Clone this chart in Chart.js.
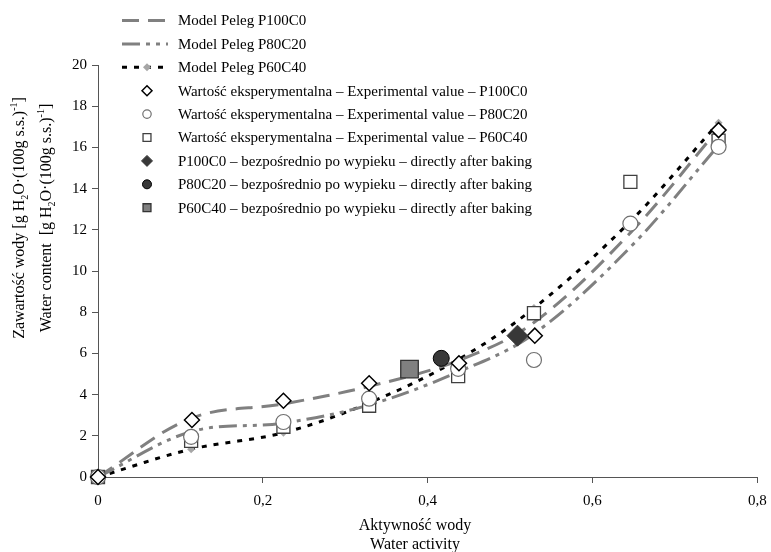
<!DOCTYPE html>
<html>
<head>
<meta charset="utf-8">
<script src="https://cdn.jsdelivr.net/npm/chart.js@4.4.0/dist/chart.umd.min.js"></script>
<style>
  html, body { margin: 0; padding: 0; background: #fff; }
  #wrap { width: 771px; height: 552px; position: relative; }
</style>
</head>
<body>
<div id="wrap"><canvas id="chart" width="771" height="552"></canvas></div>
<script>
const serif = '"Liberation Serif", "Times New Roman", serif'

// model (Peleg) values at the measured water activities
const modelAw = [0, 0.113, 0.225, 0.329, 0.437, 0.529, 0.647, 0.753]
const modelP100C0 = [0, 2.85, 3.55, 4.4, 5.65, 7.5, 11.9, 16.9]
const modelP80C20 = [0, 2.2, 2.62, 3.5, 5.1, 6.95, 11.2, 16.1]
const modelP60C40 = [0, 1.35, 2.15, 3.6, 5.7, 8.2, 12.45, 17.2]

// experimental values
const expAwP100C0 = [0, 0.114, 0.225, 0.329, 0.438, 0.530, 0.753]
const expP100C0 = [0, 2.77, 3.7, 4.55, 5.52, 6.86, 16.84]
const expAwP80C20 = [0, 0.113, 0.225, 0.329, 0.437, 0.529, 0.646, 0.753]
const expP80C20 = [0, 1.95, 2.67, 3.8, 5.25, 5.68, 12.3, 16.03]
const expAwP60C40 = [0, 0.113, 0.225, 0.329, 0.437, 0.529, 0.646, 0.753]
const expP60C40 = [0, 1.75, 2.44, 3.46, 4.9, 7.95, 14.33, 16.33]

// directly after baking
const bakedAw = [0.509, 0.4165, 0.378]
const bakedWater = [6.86, 5.76, 5.24]

const xTicks = [0, 0.2, 0.4, 0.6, 0.8]

const pts = (xs, ys) => xs.map((x, i) => ({x: x, y: ys[i]}))

const lineSet = (label, data, color, dash, extra) => Object.assign({
  label: label,
  data: data,
  showLine: true,
  borderColor: color,
  borderWidth: 3,
  borderDash: dash,
  tension: 0.35,
  pointRadius: 0,
  fill: false,
  order: 3,
  clip: false,
}, extra || {})

const markSet = (label, data, style, radius, fill, stroke, bw, order, legendRadius) => ({
  label: label,
  data: data,
  showLine: false,
  pointStyle: style,
  pointRadius: radius,
  pointBackgroundColor: fill,
  pointBorderColor: stroke,
  pointBorderWidth: bw,
  order: order,
  clip: false,
  legendRadius: legendRadius,
})

const datasets = [
  lineSet('Model Peleg P100C0', pts(modelAw, modelP100C0), '#808080', [17, 9]),
  lineSet('Model Peleg P80C20', pts(modelAw, modelP80C20), '#808080', [18, 6, 4, 6, 4, 6]),
  lineSet('Model Peleg P60C40', pts(modelAw, modelP60C40), '#000000', [5, 7], {
    pointRadius: 4, pointStyle: 'rectRot', pointBackgroundColor: '#a6a6a6',
    pointBorderColor: '#a6a6a6', pointBorderWidth: 0, legendRadius: 4,
  }),
  markSet('Wartość eksperymentalna – Experimental value – P100C0', pts(expAwP100C0, expP100C0),
    'rectRot', 7.5, '#ffffff', '#000000', 1.5, 2, 5),
  markSet('Wartość eksperymentalna – Experimental value – P80C20', pts(expAwP80C20, expP80C20),
    'circle', 7.5, '#ffffff', '#707070', 1.2, 2, 4.2),
  markSet('Wartość eksperymentalna – Experimental value – P60C40', pts(expAwP60C40, expP60C40),
    'rect', 9.2, '#ffffff', '#404040', 1.3, 2, 5.6),
  markSet('P100C0 – bezpośrednio po wypieku – directly after baking', [{x: bakedAw[0], y: bakedWater[0]}],
    'rectRot', 10.5, '#383838', '#383838', 1, 1, 5.5),
  markSet('P80C20 – bezpośrednio po wypieku – directly after baking', [{x: bakedAw[1], y: bakedWater[1]}],
    'circle', 8, '#383838', '#000000', 1, 1, 4.5),
  markSet('P60C40 – bezpośrednio po wypieku – directly after baking', [{x: bakedAw[2], y: bakedWater[2]}],
    'rect', 12.4, '#808080', '#333333', 1.3, 1, 5.6),
]

function drawRich(ctx, parts, x, y, size) {
  const fontFor = p => (p.sub || p.sup ? Math.round(size * 0.65) : size) + 'px ' + serif
  let total = 0
  parts.forEach(p => { ctx.font = fontFor(p); total += ctx.measureText(p.t).width })
  let cx = x - total / 2
  ctx.textAlign = 'left'
  parts.forEach(p => {
    ctx.font = fontFor(p)
    const dy = p.sub ? size * 0.22 : (p.sup ? -size * 0.42 : 0)
    ctx.fillText(p.t, cx, y + dy)
    cx += ctx.measureText(p.t).width
  })
}

const titlesPlugin = {
  id: 'titles',
  afterDraw(chart) {
    const ctx = chart.ctx
    ctx.save()
    ctx.fillStyle = '#000'
    ctx.textBaseline = 'alphabetic'
    ctx.textAlign = 'center'
    ctx.font = '16px ' + serif
    ctx.fillText('Aktywność wody', 415, 530)
    ctx.fillText('Water activity', 415, 549)

    const unit = [{t: 'O·(100g s.s.)'}, {t: '-1', sup: true}, {t: ']'}]
    ctx.save()
    ctx.translate(24, 218)
    ctx.rotate(-Math.PI / 2)
    drawRich(ctx, [{t: 'Zawartość wody [g H'}, {t: '2', sub: true}].concat(unit), 0, 0, 16)
    ctx.restore()
    ctx.save()
    ctx.translate(51, 218)
    ctx.rotate(-Math.PI / 2)
    drawRich(ctx, [{t: 'Water content  [g H'}, {t: '2', sub: true}].concat(unit), 0, 0, 16)
    ctx.restore()
    ctx.restore()
  }
}

const legendPlugin = {
  id: 'sideLegend',
  afterDraw(chart) {
    const ctx = chart.ctx
    const x0 = 122, x1 = 168, xm = 147, xt = 178
    ctx.save()
    chart.data.datasets.forEach((ds, i) => {
      const y = 20.5 + i * 23.4
      if (ds.showLine) {
        ctx.beginPath()
        ctx.setLineDash(ds.borderDash)
        ctx.lineWidth = ds.borderWidth
        ctx.strokeStyle = ds.borderColor
        ctx.moveTo(x0, y)
        ctx.lineTo(x1, y)
        ctx.stroke()
        ctx.setLineDash([])
      }
      if (ds.legendRadius) {
        ctx.fillStyle = ds.pointBackgroundColor
        ctx.strokeStyle = ds.pointBorderColor
        ctx.lineWidth = ds.pointBorderWidth
        Chart.helpers.drawPoint(ctx, {
          pointStyle: ds.pointStyle, rotation: 0,
          radius: ds.legendRadius, borderWidth: ds.pointBorderWidth
        }, xm, y)
      }
      ctx.fillStyle = '#000'
      ctx.font = '15px ' + serif
      ctx.textAlign = 'left'
      ctx.textBaseline = 'middle'
      ctx.fillText(ds.label, xt, y + 1)
    })
    ctx.restore()
  }
}

const axisColor = '#555555'

new Chart(document.getElementById('chart'), {
  type: 'scatter',
  data: {datasets: datasets},
  options: {
    responsive: false,
    devicePixelRatio: 1,
    animation: false,
    layout: {padding: {top: 65, right: 11, left: 0, bottom: 0}},
    scales: {
      x: {
        type: 'linear',
        min: 0,
        max: 0.8,
        afterFit(scale) {
          scale.height = 75
          scale.paddingLeft = 0
          scale.paddingRight = 0
        },
        afterBuildTicks(scale) { scale.ticks = xTicks.map(v => ({value: v})) },
        border: {display: true, color: axisColor, width: 1},
        grid: {display: true, drawOnChartArea: false, drawTicks: true, tickLength: 6, color: axisColor},
        ticks: {
          color: '#000',
          padding: 9,
          font: {family: serif, size: 15},
          callback: v => v === 0 ? '0' : (Math.round(v * 10) / 10).toFixed(1).replace('.', ','),
        },
      },
      y: {
        min: 0,
        max: 20,
        afterFit(scale) {
          scale.width = 98
          scale.paddingTop = 0
          scale.paddingBottom = 0
        },
        border: {display: true, color: axisColor, width: 1},
        grid: {display: true, drawOnChartArea: false, drawTicks: true, tickLength: 6, color: axisColor},
        ticks: {
          stepSize: 2,
          color: '#000',
          padding: 5,
          font: {family: serif, size: 15},
        },
      },
    },
    plugins: {
      legend: {display: false},
      tooltip: {enabled: false},
    },
  },
  plugins: [titlesPlugin, legendPlugin],
})
</script>
</body>
</html>
